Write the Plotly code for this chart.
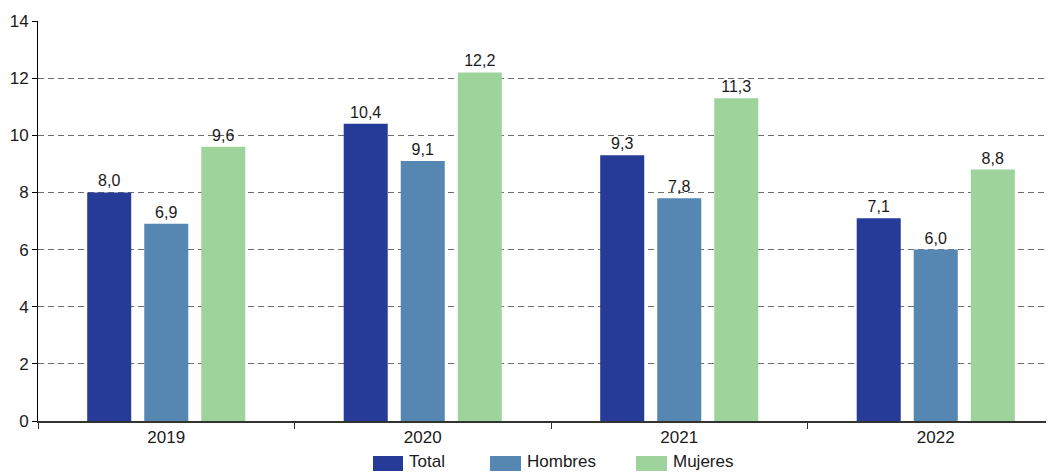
import plotly.graph_objects as go

years = ["2019", "2020", "2021", "2022"]
series_names = ["Total", "Hombres", "Mujeres"]
total = [8.0, 10.4, 9.3, 7.1]
hombres = [6.9, 9.1, 7.8, 6.0]
mujeres = [9.6, 12.2, 11.3, 8.8]
colors = ["#253b97", "#5687b3", "#9ed39b"]
values = [total, hombres, mujeres]

FONT = "Liberation Sans, Arial, sans-serif"

fig = go.Figure()
for name, vals, col in zip(series_names, values, colors):
    fig.add_trace(go.Bar(
        x=years, y=vals, name=name,
        marker=dict(color=col, line=dict(width=0)),
        texttemplate="%{y:.1f}", textposition="outside",
        textfont=dict(size=16, color="#1a1a1a", family=FONT),
        cliponaxis=False,
    ))

# the page body adds an 8px margin, so the figure is sized to fit the window
OFF = 8
W, H = 1054 - OFF, 472 - OFF
ml, mt, mb, mr = 38 - OFF, 21 - OFF, 51, 0
pw = W - ml - mr
ph = H - mt - mb

def px_x(p):  # window pixel -> paper
    return (p - OFF - ml) / pw

def px_y(p):
    return (H - mb - (p - OFF)) / ph

# manual legend with wide swatches
leg_pos = [(373, 403), (490, 521), (636, 667)]
shapes = []
annotations = []
for name, col, (x0, x1) in zip(series_names, colors, leg_pos):
    shapes.append(dict(type="rect", xref="paper", yref="paper",
                       x0=px_x(x0), x1=px_x(x1), y0=px_y(471), y1=px_y(456),
                       fillcolor=col, line=dict(width=0), layer="above"))
    annotations.append(dict(xref="paper", yref="paper", x=px_x(x1 + 4), y=px_y(461),
                            text=name, showarrow=False, xanchor="left", yanchor="middle",
                            font=dict(size=17, color="#1a1a1a", family=FONT)))

fig.update_layout(
    width=W, height=H,
    margin=dict(l=ml, r=mr, t=mt, b=mb, pad=0),
    paper_bgcolor="white", plot_bgcolor="white",
    separators=",.",
    barmode="group", bargap=0.333, bargroupgap=0.228,
    showlegend=False,
    font=dict(family=FONT, size=17, color="#1a1a1a"),
    shapes=shapes, annotations=annotations,
    xaxis=dict(type="category", range=[-0.5, 3.461], tickson="boundaries",
               ticks="outside", ticklen=6, tickcolor="#333", tickwidth=1,
               showline=True, linecolor="#333", linewidth=1.5,
               showgrid=False, tickfont=dict(size=17), automargin=False),
    yaxis=dict(range=[0, 14], dtick=2, ticks="outside", ticklen=5,
               tickcolor="#000", showline=True, linecolor="#000", linewidth=1,
               showgrid=True, gridcolor="#6f6f6f", griddash="6px,4px", gridwidth=1,
               zeroline=False, tickfont=dict(size=17), automargin=False),
)

fig.write_html("out.html")
